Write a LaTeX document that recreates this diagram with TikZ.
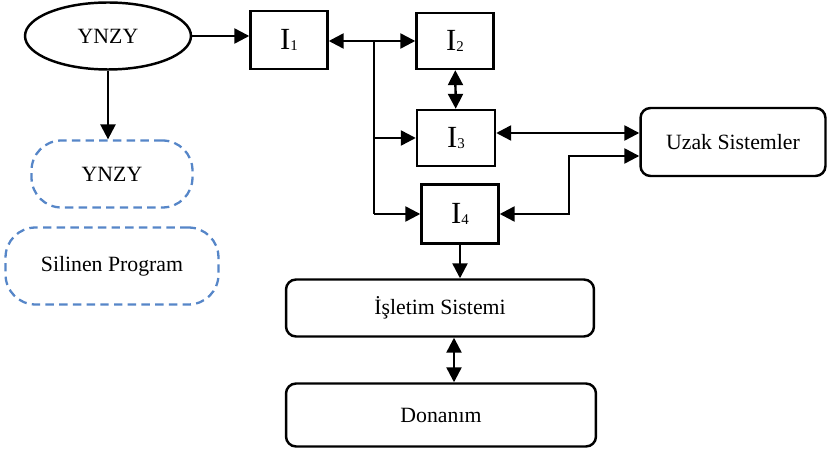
\documentclass[tikz,border=0pt]{standalone}
\usepackage{fontspec}
\setmainfont{Liberation Serif}
\usetikzlibrary{arrows.meta,shapes.geometric}
\definecolor{dashblue}{RGB}{86,134,200}
\newcommand{\isub}[1]{{\fontsize{17.5}{20}\selectfont I\raisebox{-1pt}{\fontsize{8.5}{9}\selectfont #1}}}
\tikzset{
  lbl/.style={font=\fontsize{12.4}{14}\selectfont},
  box/.style={draw, line width=1.4pt, inner sep=0pt},
  rbox/.style={box, rounded corners=0.2cm, lbl},
  dbox/.style={draw=dashblue, line width=1.3pt, dash pattern=on 4.8pt off 3pt,
    rounded corners=0.6cm, inner sep=0pt, lbl},
  tip/.style={Triangle[length=8.5pt,width=8.5pt]},
  arr/.style={line width=1.4pt, -{Triangle[length=8.5pt,width=8.5pt]}},
  darr/.style={line width=1.4pt, {Triangle[length=8.5pt,width=8.5pt]}-{Triangle[length=8.5pt,width=8.5pt]}}
}
\begin{document}
\begin{tikzpicture}[x=0.02cm,y=-0.02cm]
    \useasboundingbox (0,0) rectangle (828,452);
    \node[box, ellipse, minimum width=3.32cm, minimum height=1.34cm, lbl] (ynzy) at (108,36) {YNZY};
    \node[dbox, minimum width=3.22cm, minimum height=1.34cm] (ynzy2) at (112,174) {YNZY};
    \node[dbox, minimum width=4.26cm, minimum height=1.54cm] (silinen) at (112,266) {Silinen Program};

    \node[box, minimum width=1.54cm, minimum height=1.16cm] (i1) at (289,40) {\isub{1}};
    \node[box, minimum width=1.54cm, minimum height=1.12cm] (i2) at (455,41) {\isub{2}};
    \node[box, minimum width=1.56cm, minimum height=1.12cm] (i3) at (456,138) {\isub{3}};
    \node[box, minimum width=1.54cm, minimum height=1.18cm] (i4) at (460,214) {\isub{4}};

    \node[rbox, minimum width=3.7cm, minimum height=1.36cm] (uzak) at (733,142) {Uzak Sistemler};
    \node[rbox, minimum width=6.16cm, minimum height=1.14cm] (isletim) at (440,308) {İşletim Sistemi};
    \node[rbox, minimum width=6.2cm, minimum height=1.26cm] (donanim) at (441,415) {Donanım};

    \coordinate (br) at (374,41);
    \coordinate (bend) at (569,156);

    \draw[arr] (ynzy.east) -- (ynzy.east -| i1.west);
    \draw[arr] (ynzy.south) -- (ynzy.south |- ynzy2.north);
    \draw[darr] (i1.east |- br) -- (br -| i2.west);
    \draw[line width=1.4pt] (br) -- (br |- i4);
    \draw[arr] (br |- i3) -- (i3);
    \draw[arr] (br |- i4) -- (i4);
    \draw[darr] (i2) -- (i3);
    \draw[darr] ([yshift=0.1cm]i3.east) -- ([yshift=0.1cm]i3.east -| uzak.west);
    \draw[darr] (i4.east) -| (bend) -- (bend -| uzak.west);
    \draw[arr] (i4.south) -- (i4.south |- isletim.north);
    \draw[darr] ([xshift=-0.12cm]i4.south |- isletim.south) -- ([xshift=-0.12cm]i4.south |- donanim.north);
\end{tikzpicture}
\end{document}
